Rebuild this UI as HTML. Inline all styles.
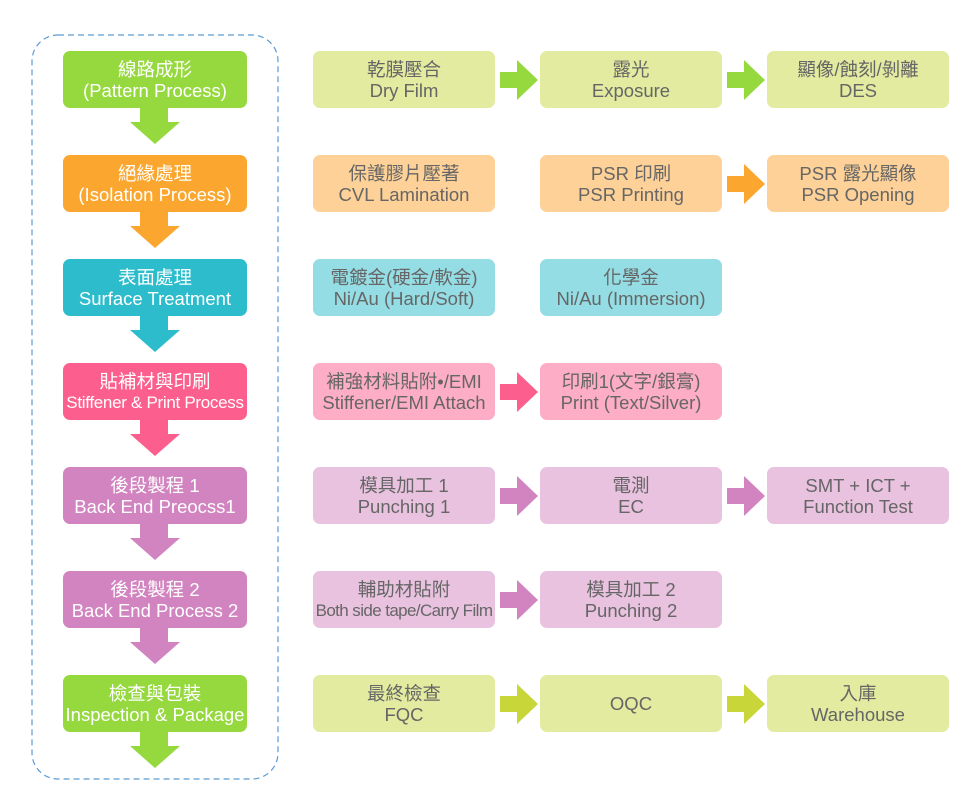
<!DOCTYPE html>
<html><head><meta charset="utf-8"><style>
body{margin:0;width:970px;height:801px;background:#fff;position:relative;overflow:hidden;font-family:"Liberation Sans","Noto Sans CJK TC",sans-serif}
.b{position:absolute;display:flex;flex-direction:column;justify-content:center;align-items:center;text-align:center;line-height:21px;font-size:18.5px;border-radius:7px;height:57px;white-space:nowrap}
.l{left:63px;width:184px;color:#fff}
.c1{left:313px;width:182px;color:#666}
.c2{left:540px;width:182px;color:#666}
.c3{left:767px;width:182px;color:#666}
svg{position:absolute;left:0;top:0}
</style></head><body>
<svg width="970" height="801">
<rect x="32" y="35" width="246" height="744" rx="26" fill="none" stroke="#5b9bd5" stroke-width="1.2" stroke-dasharray="6,4"/>
<path d="M140 108h28v14h12l-25 22l-25-22h10z" fill="#95d93e"/>
<path d="M140 212h28v14h12l-25 22l-25-22h10z" fill="#fba62f"/>
<path d="M140 316h28v14h12l-25 22l-25-22h10z" fill="#2dbccb"/>
<path d="M140 420h28v14h12l-25 22l-25-22h10z" fill="#fc5f8e"/>
<path d="M140 524h28v14h12l-25 22l-25-22h10z" fill="#d184bf"/>
<path d="M140 628h28v14h12l-25 22l-25-22h10z" fill="#d184bf"/>
<path d="M140 732h28v14h12l-25 22l-25-22h10z" fill="#95d93e"/>
<path d="M500 72h17v-12l21 20l-21 20v-12h-17z" fill="#95d93e"/>
<path d="M727 72h17v-12l21 20l-21 20v-12h-17z" fill="#95d93e"/>
<path d="M727 176h17v-12l21 20l-21 20v-12h-17z" fill="#fba62f"/>
<path d="M500 384h17v-12l21 20l-21 20v-12h-17z" fill="#fc5f8e"/>
<path d="M500 488h17v-12l21 20l-21 20v-12h-17z" fill="#d184bf"/>
<path d="M727 488h17v-12l21 20l-21 20v-12h-17z" fill="#d184bf"/>
<path d="M500 592h17v-12l21 20l-21 20v-12h-17z" fill="#d184bf"/>
<path d="M500 696h17v-12l21 20l-21 20v-12h-17z" fill="#c9d63a"/>
<path d="M727 696h17v-12l21 20l-21 20v-12h-17z" fill="#c9d63a"/>
</svg>

<div class="b l" style="top:51px;background:#95d93e">線路成形<span>(Pattern Process)</span></div>
<div class="b l" style="top:155px;background:#fba62f">絕緣處理<span>(Isolation Process)</span></div>
<div class="b l" style="top:259px;background:#2dbccb">表面處理<span>Surface Treatment</span></div>
<div class="b l" style="top:363px;background:#fc5f8e">貼補材與印刷<span style="font-size:17px;letter-spacing:-0.3px">Stiffener &amp; Print Process</span></div>
<div class="b l" style="top:467px;background:#d184bf">後段製程 1<span>Back End Preocss1</span></div>
<div class="b l" style="top:571px;background:#d184bf">後段製程 2<span>Back End Process 2</span></div>
<div class="b l" style="top:675px;background:#95d93e">檢查與包裝<span>Inspection &amp; Package</span></div>

<div class="b c1" style="top:51px;background:#e2eb9f">乾膜壓合<span>Dry Film</span></div>
<div class="b c2" style="top:51px;background:#e2eb9f">露光<span>Exposure</span></div>
<div class="b c3" style="top:51px;background:#e2eb9f">顯像/蝕刻/剝離<span>DES</span></div>

<div class="b c1" style="top:155px;background:#fdd197">保護膠片壓著<span>CVL Lamination</span></div>
<div class="b c2" style="top:155px;background:#fdd197">PSR 印刷<span>PSR Printing</span></div>
<div class="b c3" style="top:155px;background:#fdd197">PSR 露光顯像<span>PSR Opening</span></div>

<div class="b c1" style="top:259px;background:#94dde4">電鍍金(硬金/軟金)<span>Ni/Au (Hard/Soft)</span></div>
<div class="b c2" style="top:259px;background:#94dde4">化學金<span>Ni/Au (Immersion)</span></div>

<div class="b c1" style="top:363px;background:#fdadc6">補強材料貼附•/EMI<span>Stiffener/EMI Attach</span></div>
<div class="b c2" style="top:363px;background:#fdadc6">印刷1(文字/銀膏)<span>Print (Text/Silver)</span></div>

<div class="b c1" style="top:467px;background:#e8c2df">模具加工 1<span>Punching 1</span></div>
<div class="b c2" style="top:467px;background:#e8c2df">電測<span>EC</span></div>
<div class="b c3" style="top:467px;background:#e8c2df">SMT + ICT +<span>Function Test</span></div>

<div class="b c1" style="top:571px;background:#e8c2df">輔助材貼附<span style="font-size:17px;letter-spacing:-0.6px">Both side tape/Carry Film</span></div>
<div class="b c2" style="top:571px;background:#e8c2df">模具加工 2<span>Punching 2</span></div>

<div class="b c1" style="top:675px;background:#e2eb9f">最終檢查<span>FQC</span></div>
<div class="b c2" style="top:675px;background:#e2eb9f">OQC</div>
<div class="b c3" style="top:675px;background:#e2eb9f">入庫<span>Warehouse</span></div>
</body></html>
